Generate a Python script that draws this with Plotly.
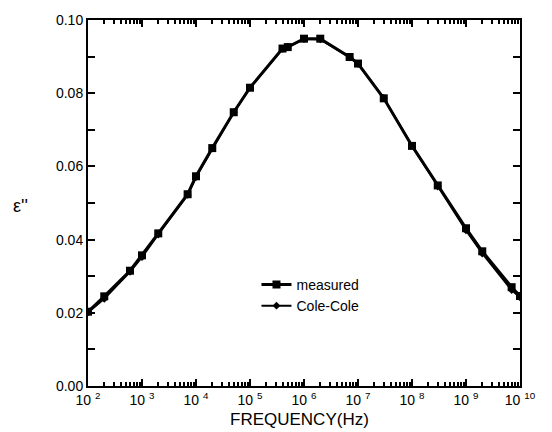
import plotly.graph_objects as go

freq = [1e2, 2e2, 6e2, 1e3, 2e3, 7e3, 1e4, 2e4, 5e4, 1e5, 4e5, 5e5, 1e6, 2e6,
        7e6, 1e7, 3e7, 1e8, 3e8, 1e9, 2e9, 7e9, 1e10]
eps_measured = [0.0203, 0.0245, 0.0315, 0.0357, 0.0417, 0.0524, 0.0573, 0.0650,
                0.0748, 0.0815, 0.0922, 0.0926, 0.0949, 0.0949, 0.0899, 0.0881,
                0.0786, 0.0656, 0.0548, 0.0431, 0.0368, 0.0270, 0.0246]
eps_colecole = [0.0201, 0.0238, 0.0312, 0.0352, 0.0414, 0.0522, 0.0571, 0.0649,
                0.0748, 0.0815, 0.0921, 0.0927, 0.0948, 0.0947, 0.0898, 0.0880,
                0.0787, 0.0657, 0.0545, 0.0425, 0.0362, 0.0262, 0.0242]

x_exponents = [2, 3, 4, 5, 6, 7, 8, 9, 10]
x_tickvals = [10 ** e for e in x_exponents]
x_ticktext = ["10 <sup>%d</sup>" % e for e in x_exponents]
x_minor = [m * 10 ** e for e in x_exponents[:-1] for m in range(2, 10)]
y_tickvals = [0.00, 0.02, 0.04, 0.06, 0.08, 0.10]
y_ticktext = ["0.00", "0.02", "0.04", "0.06", "0.08", "0.10"]

FONT = "Liberation Sans, Arial, sans-serif"

fig = go.Figure()
fig.add_trace(go.Scatter(
    x=freq, y=eps_measured, mode="lines+markers", name="measured",
    line=dict(color="black", width=3),
    marker=dict(symbol="square", size=8, color="black"),
))
fig.add_trace(go.Scatter(
    x=freq, y=eps_colecole, mode="lines+markers", name="Cole-Cole",
    line=dict(color="black", width=2),
    marker=dict(symbol="diamond", size=6, color="black"),
))
# invisible carrier trace for the minor-tick x axis
fig.add_trace(go.Scatter(
    x=freq, y=eps_measured, mode="lines", xaxis="x2", showlegend=False,
    line=dict(color="rgba(0,0,0,0)", width=0), hoverinfo="skip",
))

fig.update_layout(
    width=552, height=432,
    margin=dict(l=88, r=32, t=16, b=46),
    paper_bgcolor="white", plot_bgcolor="white",
    font=dict(family=FONT, color="black", size=12),
    showlegend=True,
    legend=dict(x=0.39, y=0.32, xanchor="left", yanchor="top",
                bgcolor="rgba(0,0,0,0)", font=dict(size=14, family=FONT),
                tracegroupgap=0),
    xaxis=dict(
        type="log", range=[2, 10], tickmode="array",
        tickvals=x_tickvals, ticktext=x_ticktext,
        ticks="inside", ticklen=7, tickwidth=2, tickcolor="black",
        showline=True, linecolor="black", linewidth=2, mirror="allticks",
        showgrid=False, zeroline=False,
        tickfont=dict(size=14, family=FONT),
    ),
    xaxis2=dict(
        type="log", range=[2, 10], overlaying="x", side="bottom",
        tickmode="array", tickvals=x_minor, showticklabels=False,
        ticks="inside", ticklen=4, tickwidth=1.5, tickcolor="black",
        showline=False, mirror="allticks", showgrid=False, zeroline=False,
    ),
    yaxis=dict(
        range=[0, 0.1], tickmode="array",
        tickvals=y_tickvals, ticktext=y_ticktext,
        ticks="inside", ticklen=7, tickwidth=2, tickcolor="black",
        showline=True, linecolor="black", linewidth=2, mirror="allticks",
        showgrid=False, zeroline=False,
        tickfont=dict(size=14, family=FONT),
        minor=dict(dtick=0.01, ticks="inside", ticklen=4, tickwidth=1.5,
                   tickcolor="black", showgrid=False),
    ),
    annotations=[
        dict(text="FREQUENCY(Hz)", xref="paper", yref="paper", x=0.49, y=-0.092,
             xanchor="center", yanchor="middle", showarrow=False,
             font=dict(size=17, family=FONT)),
        dict(text="ε''", xref="paper", yref="paper", x=-0.157, y=0.492,
             xanchor="center", yanchor="middle", showarrow=False,
             font=dict(size=18, family=FONT)),
    ],
)

fig.write_html("out.html")
